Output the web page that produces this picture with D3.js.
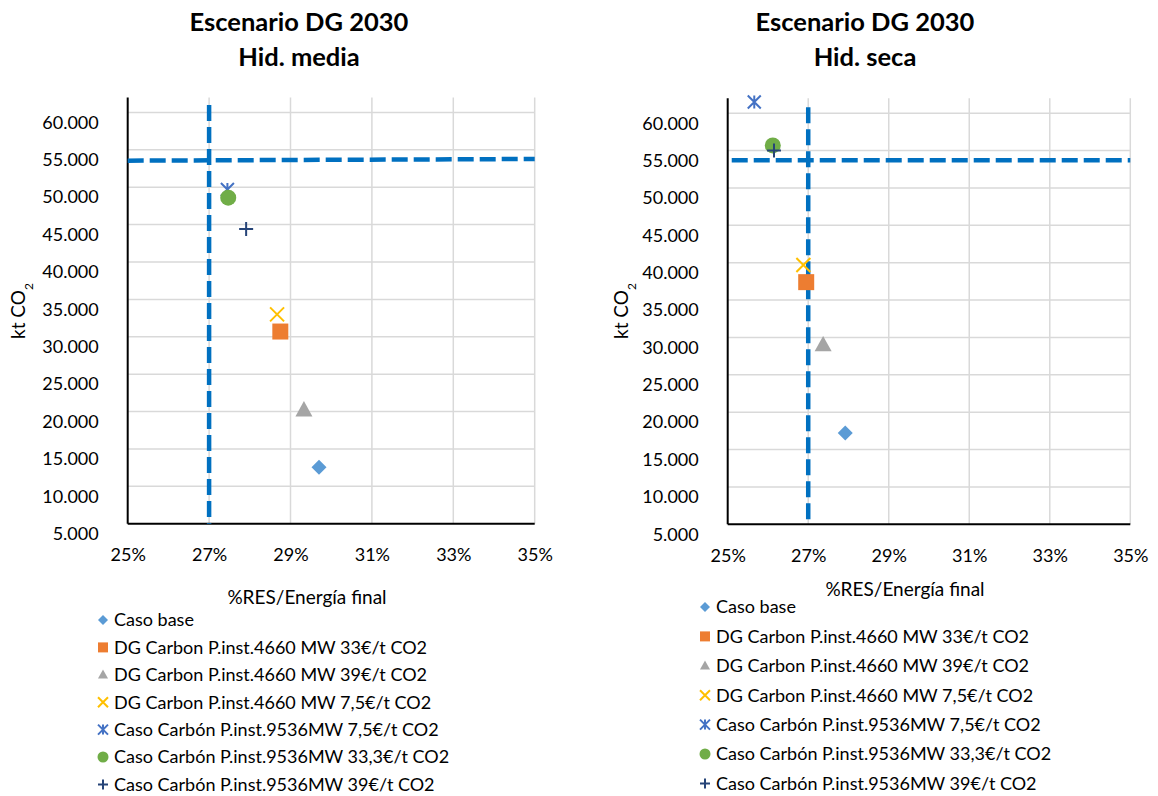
<!DOCTYPE html>
<html>
<head>
<meta charset="utf-8">
<script src="https://cdn.jsdelivr.net/npm/d3@7"></script>
<style>
  body { margin: 0; background: #fff; }
  text { font-family: Lato, "Open Sans", sans-serif; fill: #000; }
</style>
</head>
<body>
<div id="chart"></div>
<script>
// series (same order in both panels)
const seriesNames = [
    "Caso base",
    "DG Carbon P.inst.4660 MW 33€/t CO2",
    "DG Carbon P.inst.4660 MW 39€/t CO2",
    "DG Carbon P.inst.4660 MW 7,5€/t CO2",
    "Caso Carbón P.inst.9536MW 7,5€/t CO2",
    "Caso Carbón P.inst.9536MW 33,3€/t CO2",
    "Caso Carbón P.inst.9536MW 39€/t CO2"
];
const seriesColors = ["#5B9BD5", "#ED7D31", "#A5A5A5", "#FFC000", "#4472C4", "#70AD47", "#264478"];
const seriesShapes = ["diamond", "square", "triangle", "x", "star", "circle", "plus"];

// Hid. media
const mediaRes = [29.70, 28.75, 29.33, 28.67, 27.45, 27.47, 27.91];
const mediaCo2 = [12550, 30700, 20200, 33000, 49700, 48600, 44400];
// Hid. seca
const secaRes = [27.92, 26.95, 27.37, 26.88, 25.66, 26.12, 26.15];
const secaCo2 = [17200, 37400, 29000, 39700, 61500, 55700, 55000];

// dashed limit lines
const mediaLimH = [[25, 53550], [35, 53780]];
const mediaLimV = [[27, 61000], [27, 5000]];
const secaLimH = [[25.1, 53700], [35, 53700]];
const secaLimV = [[27, 60800], [27, 5000]];

const xTicks = [25, 27, 29, 31, 33, 35];
const yTicks = [5000, 10000, 15000, 20000, 25000, 30000, 35000, 40000, 45000, 50000, 55000, 60000];

const panels = [
    { title: "Hid. media", res: mediaRes, co2: mediaCo2, limH: mediaLimH, limV: mediaLimV,
      left: 127.7, right: 534.7, top: 97.5, bottom: 523.7, titleX: 299, xTitleX: 307, xTitleY: 597,
      yTitleX: 18, legX: 103, legY: 620, legStep: 27.4 },
    { title: "Hid. seca", res: secaRes, co2: secaCo2, limH: secaLimH, limV: secaLimV,
      left: 727.7, right: 1130.3, top: 98.3, bottom: 524.3, titleX: 865, xTitleX: 905, xTitleY: 589,
      yTitleX: 621, legX: 705, legY: 607, legStep: 29.4 }
];

const locale = d3.formatLocale({ decimal: ",", thousands: ".", grouping: [3], currency: ["", "€"] });
const fmtY = locale.format(",.0f");

const svg = d3.select("#chart").append("svg")
    .attr("width", 1158)
    .attr("height", 796);

function symbolPath(shape, s) {
    const h = s / 2;
    if (shape === "diamond") return `M0,${-h}L${h},0L0,${h}L${-h},0Z`;
    if (shape === "square") return `M${-h},${-h}H${h}V${h}H${-h}Z`;
    if (shape === "triangle") return `M0,${-h * 1.05}L${h},${h * 0.75}L${-h},${h * 0.75}Z`;
    if (shape === "circle") return d3.symbol(d3.symbolCircle, Math.PI * h * h)();
    if (shape === "x") return `M${-h},${-h}L${h},${h}M${h},${-h}L${-h},${h}`;
    if (shape === "plus") return `M${-h},0H${h}M0,${-h}V${h}`;
    // star: x with vertical stroke
    return `M${-h},${-h}L${h},${h}M${h},${-h}L${-h},${h}M0,${-h}V${h}`;
}

function drawMarker(g, i, size) {
    const shape = seriesShapes[i];
    const filled = ["diamond", "square", "triangle", "circle"].includes(shape);
    g.append("path")
        .attr("d", symbolPath(shape, size))
        .attr("fill", filled ? seriesColors[i] : "none")
        .attr("stroke", seriesColors[i])
        .attr("stroke-width", filled ? 0 : 2);
}

panels.forEach(p => {
    const x = d3.scaleLinear().domain([25, 35]).range([p.left, p.right]);
    const y = d3.scaleLinear().domain([5000, 62000]).range([p.bottom, p.top]);
    const g = svg.append("g");

    // gridlines
    g.selectAll(".vg").data(xTicks.slice(1)).join("line")
        .attr("x1", d => x(d)).attr("x2", d => x(d))
        .attr("y1", p.top).attr("y2", p.bottom)
        .attr("stroke", "#D9D9D9").attr("stroke-width", 1.5);
    g.selectAll(".hg").data(yTicks.slice(1)).join("line")
        .attr("x1", p.left).attr("x2", p.right)
        .attr("y1", d => y(d)).attr("y2", d => y(d))
        .attr("stroke", "#D9D9D9").attr("stroke-width", 1.5);

    // axes
    const xAxis = g.append("g")
        .attr("transform", `translate(0,${p.bottom})`)
        .call(d3.axisBottom(x).tickValues(xTicks).tickSize(0).tickPadding(25).tickFormat(d => d + "%"));
    const yAxis = g.append("g")
        .attr("transform", `translate(${p.left},0)`)
        .call(d3.axisLeft(y).tickValues(yTicks).tickSize(0).tickPadding(29).tickFormat(fmtY));
    [xAxis, yAxis].forEach(a => {
        a.select(".domain").attr("stroke", "#000").attr("stroke-width", 2);
        a.selectAll("text").style("font-size", "18px").attr("fill", "#000");
    });
    yAxis.selectAll("text").attr("dy", "0.32em").attr("y", 10);
    yAxis.select(".domain").attr("d", `M0,${p.top}V${p.bottom}`);
    xAxis.select(".domain").attr("d", `M${p.left},0H${p.right}`);

    // limit lines
    const line = d3.line().x(d => x(d[0])).y(d => y(d[1]));
    [p.limH, p.limV].forEach(l => {
        g.append("path").attr("d", line(l))
            .attr("fill", "none").attr("stroke", "#0070C0")
            .attr("stroke-width", 4.5).attr("stroke-dasharray", "16,6");
    });

    // points
    p.res.forEach((r, i) => {
        const m = g.append("g").attr("transform", `translate(${x(r)},${y(p.co2[i])})`);
        const size = { diamond: 15, square: 16, triangle: 17, x: 14, star: 13, circle: 16, plus: 14 }[seriesShapes[i]];
        drawMarker(m, i, size);
    });

    // titles
    const t = g.append("text").attr("x", p.titleX).attr("text-anchor", "middle")
        .style("font-size", "25.5px").style("font-weight", "bold");
    t.append("tspan").attr("x", p.titleX).attr("y", 31).text("Escenario DG 2030");
    t.append("tspan").attr("x", p.titleX).attr("y", 66).text(p.title);

    g.append("text").attr("x", p.xTitleX).attr("y", p.xTitleY).attr("dy", "0.35em")
        .attr("text-anchor", "middle").style("font-size", "19px").text("%RES/Energía final");

    const yt = g.append("text")
        .attr("transform", `translate(${p.yTitleX},${311}) rotate(-90)`)
        .attr("text-anchor", "middle").attr("dy", "0.35em").style("font-size", "19px");
    yt.append("tspan").text("kt CO");
    yt.append("tspan").attr("baseline-shift", "sub").style("font-size", "12px").text("2");

    // legend
    seriesNames.forEach((name, i) => {
        const ly = p.legY + i * p.legStep;
        const m = g.append("g").attr("transform", `translate(${p.legX},${ly})`);
        drawMarker(m, i, seriesShapes[i] === "circle" ? 11 : 10);
        g.append("text").attr("x", p.legX + 11).attr("y", ly).attr("dy", "0.35em")
            .style("font-size", "18px").text(name);
    });
});
</script>
</body>
</html>
